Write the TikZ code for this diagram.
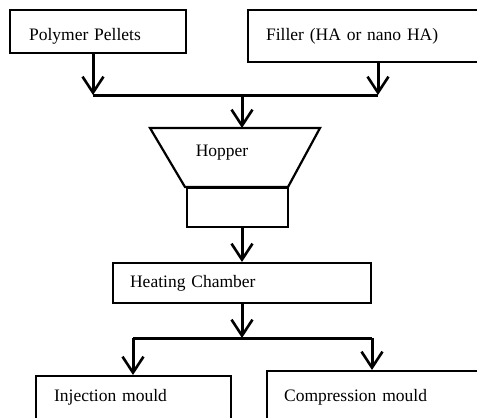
\documentclass[tikz,border=0pt]{standalone}
\usepackage{fontspec}
\setmainfont{Liberation Serif}
\usetikzlibrary{positioning, arrows.meta, calc}

\begin{document}
\begin{tikzpicture}[x=1pt, y=-1pt,
    box/.style={draw, line width=2.2pt, rectangle, anchor=north west, align=left,
      font=\fontsize{17.5}{21}\selectfont},
    link/.style={line width=3pt},
    arr/.style={line width=3pt, -{Straight Barb[length=16pt, width=21pt, line width=2.6pt]}}]
  \useasboundingbox (0,0) rectangle (477,418);
  % input boxes
  \node[box, inner ysep=0pt, text height=30pt, text depth=13pt, inner xsep=19pt, text width=138pt] (pellets) at (9,9) {Polymer Pellets};
  \node[box, inner ysep=0pt, text height=30pt, text depth=22pt, inner xsep=18pt, text width=207pt] (filler) at (247,9) {Filler (HA or nano HA)};
  % junction above the hopper
  \coordinate (jl) at (93,95);
  \coordinate (jr) at (378,95);
  \coordinate (jm) at (242,95);
  \draw[arr] (pellets.south -| jl) -- (jl);
  \draw[arr] (filler.south -| jr) -- (jr);
  \draw[link] (jl) -- (jr);
  % hopper
  \coordinate (hoptl) at (150,128);
  \coordinate (hoptr) at (320,128);
  \coordinate (hopbr) at (288,187);
  \coordinate (hopbl) at (185,187);
  \draw[line width=2.2pt] (hoptl) -- (hoptr) -- (hopbr) -- (hopbl) -- cycle;
  \node[font=\fontsize{17.5}{21}\selectfont] (hopper) at (222,153) {Hopper};
  \draw[arr] (jm) -- (jm |- hoptl);
  \node[box, minimum width=101pt, minimum height=39pt] (outlet) at (186,187) {};
  % heating chamber
  \node[box, minimum height=40pt, inner xsep=17pt, text width=224pt] (heat) at (112,262) {Heating Chamber};
  \draw[arr] (outlet.south -| jm) -- (heat.north -| jm);
  % split to the moulds
  \coordinate (sm) at (242,338);
  \coordinate (sl) at (133,338);
  \coordinate (sr) at (372,338);
  \draw[arr] (heat.south -| sm) -- (sm);
  \draw[link] (sl) -- (sr);
  \node[box, inner ysep=0pt, text height=25pt, text depth=40pt, inner xsep=18pt, text width=159pt] (inject) at (35,375) {Injection mould};
  \node[box, inner ysep=0pt, text height=30pt, text depth=40pt, inner xsep=17pt, text width=186pt] (compress) at (266,370) {Compression mould};
  \draw[arr] (sl) -- (inject.north -| sl);
  \draw[arr] (sr) -- (compress.north -| sr);
\end{tikzpicture}
\end{document}
